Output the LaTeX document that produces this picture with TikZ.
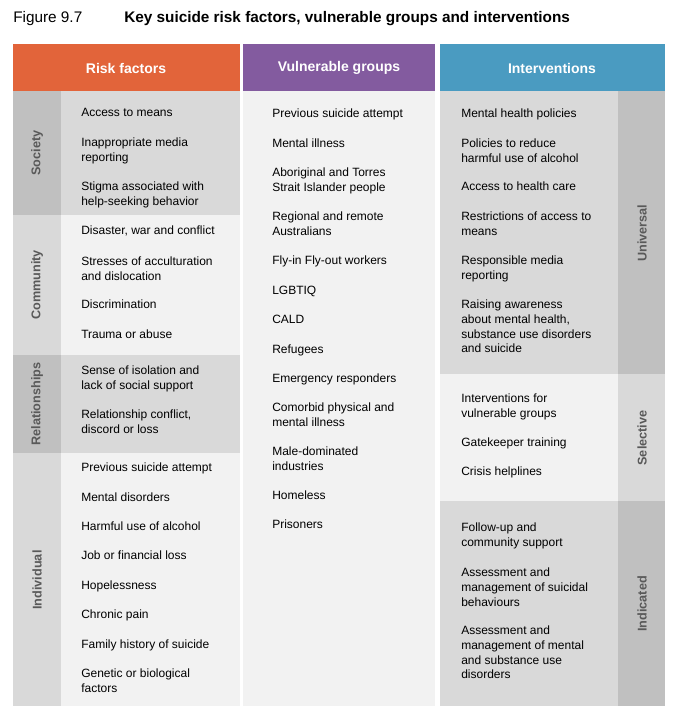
\documentclass[tikz,border=0pt]{standalone}
\usepackage{fontspec}
\setmainfont{Liberation Sans}
\definecolor{dk}{HTML}{D9D9D9}
\definecolor{dks}{HTML}{C0C0C0}
\definecolor{lt}{HTML}{F2F2F2}
\definecolor{org}{HTML}{E2643A}
\definecolor{pur}{HTML}{835B9F}
\definecolor{blu}{HTML}{4A9BC1}
\definecolor{lab}{HTML}{595959}
\begin{document}
\begin{tikzpicture}[x=0.75pt,y=-0.75pt,
  itm/.style={anchor=north west,align=left,inner sep=0pt,font=\fontsize{9}{11}\selectfont},
  side/.style={rotate=90,font=\fontsize{9.5}{11}\selectfont\bfseries,text=lab},
  head/.style={font=\fontsize{10.5}{12}\selectfont\bfseries,text=white}]
\useasboundingbox (0,0) rectangle (682,722);
% headers
\fill[org] (13,44) rectangle (240,91);
\fill[pur] (243,44) rectangle (435,91);
\fill[blu] (440,44) rectangle (665,91);
\node[head] (h1) at (126,68) {Risk factors};
\node[head] (h2) at (339,68) {Vulnerable groups};
\node[head] (h3) at (552,68) {Interventions};
\node[anchor=west,inner sep=0pt,font=\fontsize{11.5}{13}\selectfont] (fig) at (13,19) {Figure 9.7};
\node[anchor=west,inner sep=0pt,font=\fontsize{11.5}{13}\selectfont\bfseries] (ttl) at (124,19) {Key suicide risk factors, vulnerable groups and interventions};
% left bands
\fill[dks] (13,91) rectangle (61,215); \fill[dk] (61,91) rectangle (240,215);
\fill[dk] (13,215) rectangle (61,355); \fill[lt] (61,215) rectangle (240,355);
\fill[dks] (13,355) rectangle (61,453); \fill[dk] (61,355) rectangle (240,453);
\fill[dk] (13,453) rectangle (61,706); \fill[lt] (61,453) rectangle (240,706);
\node[side] (s1) at (37,153) {Society};
\node[side] (s2) at (37,285) {Community};
\node[side] (s3) at (37,404) {Relationships};
\node[side] (s4) at (37,580) {Individual};
% middle
\fill[lt] (243,91) rectangle (435,706);
% right bands
\fill[dk] (440,91) rectangle (618,374); \fill[dks] (618,91) rectangle (665,374);
\fill[lt] (440,374) rectangle (618,501); \fill[dk] (618,374) rectangle (665,501);
\fill[dk] (440,501) rectangle (618,706); \fill[dks] (618,501) rectangle (665,706);
\node[side] (u1) at (642,233) {Universal};
\node[side] (u2) at (642,438) {Selective};
\node[side] (u3) at (642,604) {Indicated};
% risk items
\foreach \y/\t [count=\i] in {115/Access to means, 145/{Inappropriate media\\reporting}, 189/{Stigma associated with\\help-seeking behavior}, 233/{Disaster, war and conflict}, 264/{Stresses of acculturation\\and dislocation}, 307/Discrimination, 337/Trauma or abuse, 373/Sense of isolation and\\lack of social support, 417/{Relationship conflict,\\discord or loss}, 470/Previous suicide attempt, 500/Mental disorders, 529/Harmful use of alcohol, 558/Job or financial loss, 588/Hopelessness, 617/Chronic pain, 647/Family history of suicide, 676/Genetic or biological\\factors}
  \node[itm] (r\i) at (81,\y-7) {\t};
\foreach \y/\t [count=\i] in {116/Previous suicide attempt, 146/Mental illness, 175/Aboriginal and Torres\\Strait Islander people, 219/Regional and remote\\Australians, 263/Fly-in Fly-out workers, 293/LGBTIQ, 322/CALD, 352/Refugees, 381/Emergency responders, 410/Comorbid physical and\\mental illness, 454/Male-dominated\\industries, 498/Homeless, 527/Prisoners}
  \node[itm] (v\i) at (272,\y-7) {\t};
\foreach \y/\t [count=\i] in {116/Mental health policies, 146/Policies to reduce\\harmful use of alcohol, 189/Access to health care, 219/Restrictions of access to\\means, 263/Responsible media\\reporting, 307/Raising awareness\\about mental health{,}\\substance use disorders\\and suicide, 401/Interventions for\\vulnerable groups, 445/Gatekeeper training, 474/Crisis helplines, 530/Follow-up and\\community support, 575/Assessment and\\management of suicidal\\behaviours, 633/Assessment and\\management of mental\\and substance use\\disorders}
  \node[itm] (n\i) at (461,\y-7) {\t};
\end{tikzpicture}
\end{document}
